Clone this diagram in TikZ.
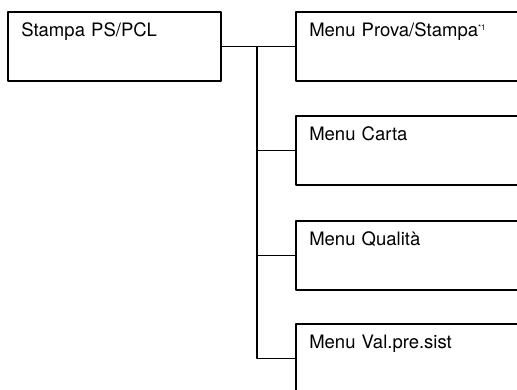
\documentclass[tikz,border=0pt]{standalone}
\usepackage{fontspec}
\setmainfont{TeX Gyre Heros}
\newcommand{\fnmark}{\raisebox{6.5pt}{\fontsize{8}{8}\selectfont *1}}
\begin{document}
\begin{tikzpicture}[
	x=1pt, y=-1pt,
	line join=round,
	font=\fontsize{18.5}{20}\selectfont,
	menubox/.style={draw, line width=1.6pt, anchor=north west,
		inner ysep=0pt, inner xsep=13.5pt,
		text width=#1-27pt, align=left,
		text height=25pt, text depth=44pt},
	link/.style={line width=1.6pt}
	]
	
	% Khung
	\useasboundingbox (0,0) rectangle (517,389);
	\clip (0,0) rectangle (517,389);
	
	% Hộp gốc
	\node[menubox=213pt] (root) at (7,11) {Stampa PS/PCL};
	
	% Các menu con
	\node[menubox=260pt] (prova) at (295,11) {Menu Prova/Stampa\fnmark};
	\node[menubox=260pt] (carta) at (295,115) {Menu Carta};
	\node[menubox=260pt] (qualita) at (295,220) {Menu Qualità};
	\node[menubox=260pt] (valpre) at (295,323) {Menu Val.pre.sist};
	
	% Đường nối
	\coordinate (trunk) at (257,0);
	\draw[link] (root.east) -- (prova.west);
	\draw[link] (trunk |- root.east) |- (valpre.west);
	\foreach \m in {carta,qualita}{
		\draw[link] (trunk |- \m.west) -- (\m.west);
	}
	
\end{tikzpicture}
\end{document}
